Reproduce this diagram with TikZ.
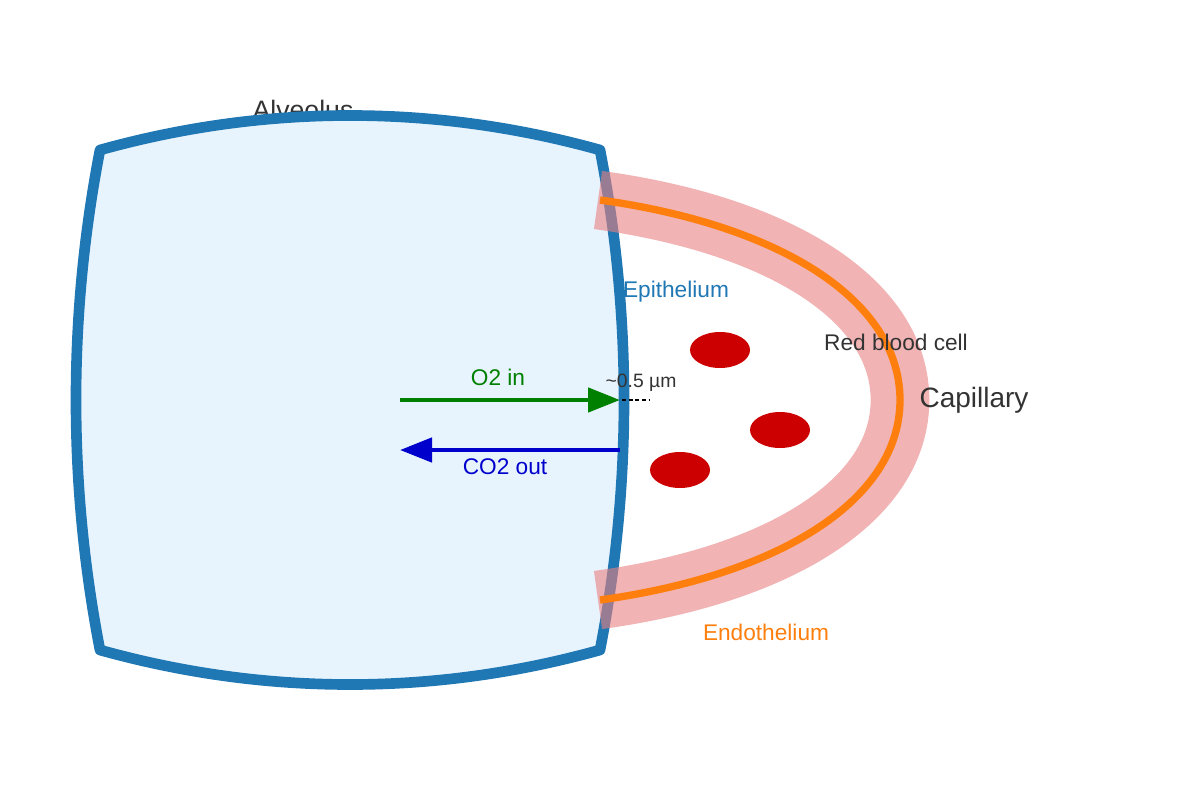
\documentclass[tikz,border=0pt]{standalone}
\usepackage{fontspec}
\setmainfont{Liberation Sans}
\usetikzlibrary{arrows.meta}
\definecolor{alvb}{HTML}{1F77B4}
\definecolor{alvf}{HTML}{E8F4FD}
\definecolor{org}{HTML}{FF7F0E}
\definecolor{pink}{HTML}{E88080}
\definecolor{rbc}{HTML}{CC0000}
\definecolor{txt}{HTML}{333333}
\definecolor{grn}{HTML}{008000}
\definecolor{blu}{HTML}{0000CC}
\begin{document}
\begin{tikzpicture}[x=0.75pt,y=-0.75pt,
  lbl/.style={font=\fontsize{17}{19}\selectfont}]
\useasboundingbox (0,0) rectangle (1200,800);
\node[text=txt,font=\fontsize{20}{22}\selectfont] (alvlabel) at (303,110) {Alveolus};
\draw[alvb,line width=8,fill=alvf,line join=round]
  (100,150) .. controls (265,104) and (435,104) .. (600,150)
  .. controls (632,315) and (632,485) .. (600,650)
  .. controls (435,696) and (265,696) .. (100,650)
  .. controls (68,485) and (68,315) .. cycle;
\draw[pink,opacity=0.6,line width=44]
  (598,200) .. controls (780,225) and (900,300) .. (900,400)
  .. controls (900,500) and (780,575) .. (598,600);
\draw[org,line width=5.5]
  (600,200) .. controls (780,225) and (900,300) .. (900,400)
  .. controls (900,500) and (780,575) .. (600,600);
\fill[rbc] (720,350) ellipse [x radius=30,y radius=18];
\fill[rbc] (780,430) ellipse [x radius=30,y radius=18];
\fill[rbc] (680,470) ellipse [x radius=30,y radius=18];
\coordinate (o2s) at (400,400);
\coordinate (o2e) at (620,400);
\coordinate (co2s) at (620,450);
\coordinate (co2e) at (400,450);
\coordinate (d1) at (622,400);
\coordinate (d2) at (650,400);
\draw[grn,line width=3.5,-{Triangle[length=24pt,width=18pt]}] (o2s) -- (o2e);
\draw[blu,line width=3.5,-{Triangle[length=24pt,width=18pt]}] (co2s) -- (co2e);
\draw[black,densely dashed,line width=1.2] (d1) -- (d2);
\node[lbl,text=grn] (o2) at (498,377) {O2 in};
\node[lbl,text=blu] (co2) at (505,467) {CO2 out};
\node[text=txt,font=\fontsize{14.5}{16}\selectfont] (dist) at (641,383) {\textasciitilde 0.5 µm};
\node[lbl,text=alvb] (epi) at (676,292) {Epithelium};
\node[lbl,text=txt] (rbcl) at (896,342) {Red blood cell};
\node[text=txt,font=\fontsize{21}{23}\selectfont] (cap) at (974,400) {Capillary};
\node[lbl,text=org] (endo) at (766,632) {Endothelium};
\end{tikzpicture}
\end{document}
